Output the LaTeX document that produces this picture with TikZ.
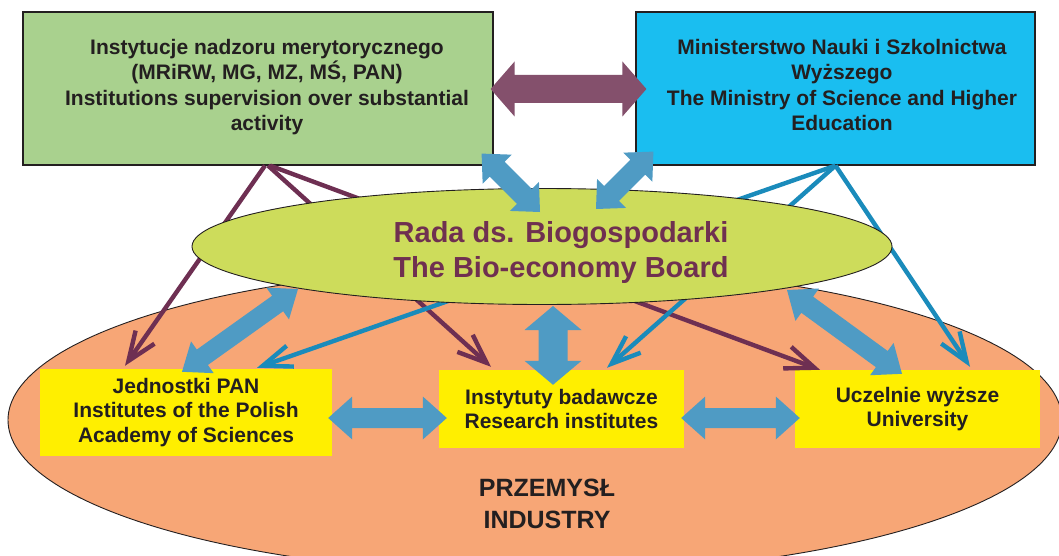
\documentclass[tikz,border=0pt]{standalone}
\usepackage{fontspec}
\setmainfont{Liberation Sans}
\usetikzlibrary{arrows.meta,calc,shapes.geometric}
\definecolor{boxgreen}{HTML}{A9D18E}
\definecolor{boxblue}{HTML}{1ABEF0}
\definecolor{radagreen}{HTML}{CDDC5B}
\definecolor{indorange}{HTML}{F7A676}
\definecolor{unityellow}{HTML}{FFEF00}
\definecolor{plumline}{HTML}{6E2F52}
\definecolor{plumarrow}{HTML}{84506C}
\definecolor{steelarrow}{HTML}{4F9BC4}
\definecolor{cyanline}{HTML}{1A8BBB}
\definecolor{radaink}{HTML}{6F3050}
\definecolor{inkdark}{HTML}{231F20}

% double block arrow: #1 start, #2 end, #3 half shaft, #4 half head, #5 head length, #6 colour
\newcommand{\dblarr}[6]{%
  \coordinate (#1#2a) at ($(#1)!#5!(#2)$);
  \coordinate (#1#2b) at ($(#2)!#5!(#1)$);
  \fill[#6] (#1) -- ($(#1#2a)!#4!90:(#2)$) -- ($(#1#2a)!#3!90:(#2)$)
    -- ($(#1#2b)!#3!90:(#2)$) -- ($(#1#2b)!#4!90:(#2)$) -- (#2)
    -- ($(#1#2b)!#4!-90:(#2)$) -- ($(#1#2b)!#3!-90:(#2)$)
    -- ($(#1#2a)!#3!-90:(#2)$) -- ($(#1#2a)!#4!-90:(#2)$) -- cycle;
}
\newcommand{\fsbox}{\fontsize{21}{25.5}\selectfont\bfseries}
\newcommand{\fsunit}{\fontsize{21}{24.5}\selectfont\bfseries}
\newcommand{\fsrada}{\fontsize{29}{35}\selectfont\bfseries}
\newcommand{\fsind}{\fontsize{25}{31.6}\selectfont\bfseries}

\tikzset{
  topbox/.style={draw=inkdark, line width=1.2pt, inner sep=0pt},
  unitbox/.style={fill=unityellow, inner sep=0pt, align=center, text=inkdark, font=\fsunit},
  boxtext/.style={align=center, text=inkdark, font=\fsbox, inner sep=0pt},
  plumthin/.style={draw=plumline, line width=4.4pt, -{Straight Barb[length=29pt,width=23pt]}},
  cyanthin/.style={draw=cyanline, line width=4.4pt, -{Straight Barb[length=29pt,width=22pt]}},
}

\begin{document}
\begin{tikzpicture}[x=1pt,y=-1pt]
\useasboundingbox (0,0) rectangle (1059,556);
\clip (0,0) rectangle (1059,556);
\fill[white] (0,0) rectangle (1059,556);

% industry
\node[ellipse, fill=indorange, draw=inkdark, line width=0.9pt, minimum width=1054pt, minimum height=308pt, inner sep=0pt] (industry) at (535,420) {};
\node[align=center, text=inkdark, font=\fsind, inner sep=0pt] (industrytext) at (547,504) {PRZEMYSŁ\\INDUSTRY};

% units
\node[unitbox, minimum width=292pt, minimum height=87pt] (jed) at (186,412.5) {Jednostki PAN\\Institutes of the Polish\\Academy of Sciences};
\node[unitbox, minimum width=245pt, minimum height=78pt] (inst) at (561.5,409) {Instytuty badawcze\\Research institutes};
\node[unitbox, minimum width=245pt, minimum height=78pt] (ucz) at (917.5,409) {Uczelnie wyższe\\University};

% top boxes
\node[topbox, fill=boxgreen, minimum width=470pt, minimum height=153pt] (sup) at (258,88.5) {};
\node[boxtext] (suptext) at (267,87) {Instytucje nadzoru merytorycznego\\(MRiRW, MG, MZ, MŚ, PAN)\\Institutions supervision over substantial\\activity};
\node[topbox, fill=boxblue, minimum width=399pt, minimum height=153pt] (mins) at (835.5,88.5) {};
\node[boxtext] (minstext) at (842,85) {Ministerstwo Nauki i Szkolnictwa\\Wyższego\\The Ministry of Science and Higher\\Education};

% thin arrows
\draw[plumthin] ([shift={(7,0)}]sup.south) -- ([shift={(-61,-3)}]jed.north);
\draw[plumthin] ([shift={(10,0)}]sup.south) -- ([shift={(-70.5,-3)}]inst.north);
\draw[plumthin] ([shift={(12,0)}]sup.south) -- ([shift={(-97.5,0)}]ucz.north);
\draw[cyanthin] (mins.south) -- ([shift={(71,-1)}]jed.north);
\draw[cyanthin] (mins.south) -- ([shift={(45.5,-2)}]inst.north);
\draw[cyanthin] (mins.south) -- ([shift={(52.5,-3)}]ucz.north);

% board
\node[ellipse, fill=radagreen, draw=inkdark, line width=0.9pt, minimum width=700pt, minimum height=116pt, inner sep=0pt] (rada) at (542,246.5) {};
\node[align=center, text=radaink, font=\fsrada, inner sep=0pt] (radatext) at (561,253) {Rada ds. Biogospodarki\\The Bio-economy Board};

% thick arrow ends
\coordinate (ma) at ([shift={(-3,0.5)}]sup.east);
\coordinate (mb) at ([shift={(11,0.5)}]mins.west);
\coordinate (aa) at ([shift={(-12,-12)}]sup.south east);
\coordinate (ab) at ([shift={(-2,-34.5)}]rada.center);
\coordinate (ba) at ([shift={(18,-14)}]mins.south west);
\coordinate (bb) at ([shift={(54,-37.5)}]rada.center);
\coordinate (ca) at ([shift={(11,59.5)}]rada.center);
\coordinate (cb) at ([shift={(-8.5,15)}]inst.north);
\coordinate (da) at ([shift={(-244,42.5)}]rada.center);
\coordinate (db) at ([shift={(-4,3)}]jed.north);
\coordinate (ea) at ([shift={(245,43.5)}]rada.center);
\coordinate (eb) at ([shift={(-15.5,4)}]ucz.north);
\coordinate (fa) at ([shift={(-4,5.5)}]jed.east);
\coordinate (fb) at ([shift={(8,9)}]inst.west);
\coordinate (ga) at ([shift={(-3,9)}]inst.east);
\coordinate (gb) at ([shift={(5,9)}]ucz.west);

\dblarr{ma}{mb}{14pt}{27.5pt}{24pt}{plumarrow}
\dblarr{aa}{ab}{10.5pt}{20.5pt}{22pt}{steelarrow}
\dblarr{ba}{bb}{10.5pt}{20.5pt}{22pt}{steelarrow}
\dblarr{ca}{cb}{14.5pt}{28.5pt}{24pt}{steelarrow}
\dblarr{da}{db}{9.5pt}{19.5pt}{25pt}{steelarrow}
\dblarr{ea}{eb}{10pt}{20pt}{25pt}{steelarrow}
\dblarr{fa}{fb}{10pt}{21.5pt}{24pt}{steelarrow}
\dblarr{ga}{gb}{10pt}{21.5pt}{24pt}{steelarrow}
\end{tikzpicture}
\end{document}
